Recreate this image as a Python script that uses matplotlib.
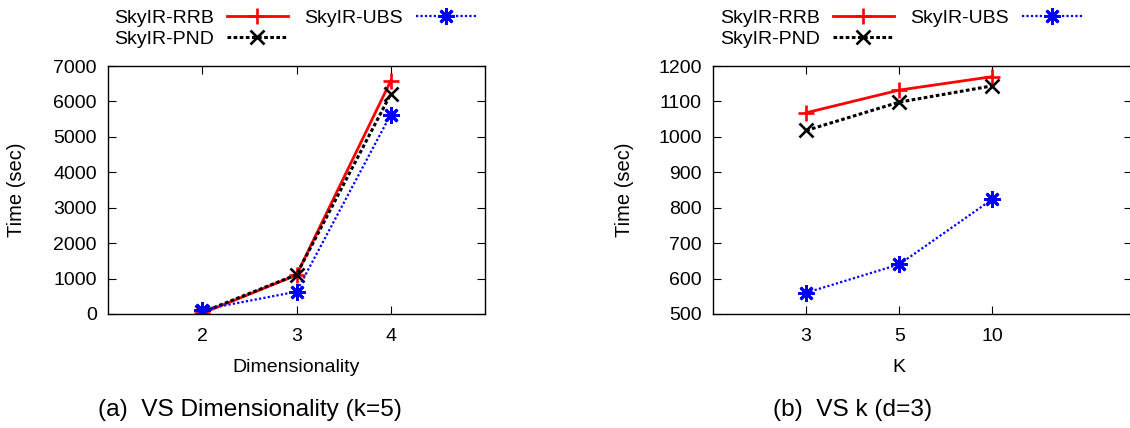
import matplotlib
matplotlib.use("Agg")
import matplotlib.pyplot as plt

plt.rcParams['font.family'] = ['Liberation Sans', 'DejaVu Sans']

# Panel (a): time vs dimensionality, k=5
dims = [2, 3, 4]
dim_rrb = [20, 1100, 6580]
dim_pnd = [50, 1110, 6210]
dim_ubs = [120, 630, 5630]

# Panel (b): time vs k, d=3
k_labels = ["3", "5", "10"]
k_rrb = [1068, 1132, 1170]
k_pnd = [1018, 1098, 1144]
k_ubs = [560, 640, 824]

series_names = ["SkyIR-RRB", "SkyIR-PND", "SkyIR-UBS"]

W, H = 1130, 428
fig = plt.figure(figsize=(W / 100, H / 100), dpi=100)

styles = [
    dict(color="#ff0000", lw=2.0, ls="-", marker="+", ms=12, mew=1.9),
    dict(color="#000000", lw=2.2, ls=(0, (1.2, 0.8)), marker="x", ms=10.5, mew=1.9),
    dict(color="#0000ff", lw=1.6, ls=(0, (1, 1)), marker=(8, 2, 0), ms=12, mew=2.0),
]

FS = 14
LFS = 14


def px_axes(left, top, right, bottom):
    return fig.add_axes([left / W, 1 - bottom / H, (right - left) / W, (bottom - top) / H])


def style_axes(ax):
    ax.tick_params(direction="in", top=True, right=True, length=6, width=0.8,
                   labelsize=FS, pad=8)
    ax.tick_params(axis="x", pad=10)
    for s in ax.spines.values():
        s.set_linewidth(1.0)


def add_legend(ax, text_left_px):
    handles = ax.get_lines()
    ax.legend(handles, series_names, ncol=2, markerfirst=False, frameon=False,
              loc="upper left", bbox_to_anchor=(text_left_px / W, 1 - 9 / H),
              bbox_transform=fig.transFigure, borderaxespad=0, borderpad=0,
              handlelength=3.15, handletextpad=0.65, columnspacing=0.85,
              labelspacing=0.17, fontsize=LFS)


# ---- panel (a)
ax1 = px_axes(108, 66, 485, 314)
for name, vals, st in zip(series_names, [dim_rrb, dim_pnd, dim_ubs], styles):
    ax1.plot(dims, vals, label=name, **st)
ax1.set_xlim(1, 5)
ax1.set_ylim(0, 7000)
ax1.set_xticks(dims)
ax1.set_yticks(range(0, 7001, 1000))
style_axes(ax1)
ax1.set_xlabel("Dimensionality", fontsize=FS)
ax1.xaxis.set_label_coords(0.5, (314 - 367) / 248)
ax1.xaxis.label.set_va("center")
ax1.set_ylabel("Time (sec)", fontsize=14.5)
ax1.yaxis.set_label_coords((17 - 108) / 377, 0.5)
ax1.yaxis.label.set_va("center")
add_legend(ax1, 114)

# ---- panel (b)
ax2 = px_axes(713, 66, 1132, 314)
xpos = list(range(1, len(k_labels) + 1))
for name, vals, st in zip(series_names, [k_rrb, k_pnd, k_ubs], styles):
    ax2.plot(xpos, vals, label=name, **st)
ax2.set_xlim(0, 4.5)
ax2.set_ylim(500, 1200)
ax2.set_xticks(xpos)
ax2.set_xticklabels(k_labels)
ax2.set_yticks(range(500, 1201, 100))
style_axes(ax2)
ax2.set_xlabel("K", fontsize=FS)
ax2.xaxis.set_label_coords((899 - 713) / 419, (314 - 367) / 248)
ax2.xaxis.label.set_va("center")
ax2.set_ylabel("Time (sec)", fontsize=14.5)
ax2.yaxis.set_label_coords((625 - 713) / 419, 0.5)
ax2.yaxis.label.set_va("center")
add_legend(ax2, 720)

# captions
fig.text(250 / W, 1 - 410 / H, "(a)  VS Dimensionality (k=5)", ha="center", va="center", fontsize=17.6)
fig.text(853 / W, 1 - 410 / H, "(b)  VS k (d=3)", ha="center", va="center", fontsize=17.6)

fig.savefig("out.png", dpi=100)
